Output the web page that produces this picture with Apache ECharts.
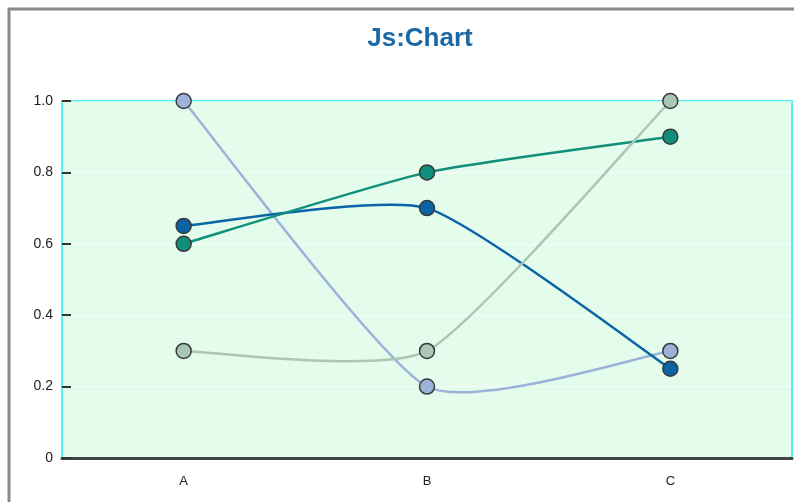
<!DOCTYPE html>
<html>
<head>
<meta charset="utf-8">
<script src="https://cdn.jsdelivr.net/npm/echarts@6/dist/echarts.min.js"></script>
<style>
  html, body { margin: 0; padding: 0; background: #fff; }
  #chart { width: 794px; height: 502px; }
</style>
</head>
<body>
<div id="chart"></div>
<script>
// Categories and values for the four series
const categories = ['A', 'B', 'C'];
const seriesBlue = [0.65, 0.7, 0.25];
const seriesTeal = [0.6, 0.8, 0.9];
const seriesLavender = [1.0, 0.2, 0.3];
const seriesSage = [0.3, 0.3, 1.0];
const yTicks = { min: 0, max: 1, step: 0.2 };

const chart = echarts.init(document.getElementById('chart'), null, { renderer: 'canvas' });

// Cardinal spline tangent factor
const TENSION = 0.28;

function toPairs(values) {
  return values.map((v, i) => [i, v]);
}

// Draws the spline segment from point i to point i+1 using the axis scales
function splineRenderer(color, width) {
  return function (params, api) {
    const i = params.dataIndexInside;
    const n = params.dataInsideLength;
    if (i >= n - 1) return null;
    const pt = j => api.coord([api.value(0, j), api.value(1, j)]);
    const p0 = pt(Math.max(i - 1, 0));
    const p1 = pt(i);
    const p2 = pt(i + 1);
    const p3 = pt(Math.min(i + 2, n - 1));
    const m1 = [TENSION * (p2[0] - p0[0]), TENSION * (p2[1] - p0[1])];
    const m2 = [TENSION * (p3[0] - p1[0]), TENSION * (p3[1] - p1[1])];
    return {
      type: 'bezierCurve',
      shape: {
        x1: p1[0], y1: p1[1],
        cpx1: p1[0] + m1[0] / 3, cpy1: p1[1] + m1[1] / 3,
        cpx2: p2[0] - m2[0] / 3, cpy2: p2[1] - m2[1] / 3,
        x2: p2[0], y2: p2[1]
      },
      style: { fill: null, stroke: color, lineWidth: width, lineCap: 'round' },
      silent: true
    };
  };
}

function curveSeries(values, color, width) {
  return {
    type: 'custom',
    data: toPairs(values),
    renderItem: splineRenderer(color, width),
    encode: { x: 0, y: 1 },
    clip: false,
    z: 2
  };
}

function dotSeries(values, color) {
  return {
    type: 'scatter',
    data: toPairs(values),
    symbol: 'circle',
    symbolSize: 15,
    itemStyle: { color: color, borderColor: '#3a3a3a', borderWidth: 1.5, opacity: 1 },
    emphasis: { disabled: true },
    z: 3
  };
}

const lines = [
  { values: seriesLavender, color: '#9cb3d9', width: 2.5 },
  { values: seriesBlue, color: '#0b64a5', width: 2.5 },
  { values: seriesTeal, color: '#108f7c', width: 2.5 },
  { values: seriesSage, color: '#aac7b6', width: 2.5 }
];

const series = [];
lines.forEach(l => series.push(curveSeries(l.values, l.color, l.width)));
lines.forEach(l => series.push(dotSeries(l.values, l.color)));

chart.setOption({
  animation: false,
  backgroundColor: '#ffffff',
  title: {
    text: 'Js:Chart',
    left: 415,
    top: 21,
    textAlign: 'center',
    textStyle: { color: '#1a68a6', fontSize: 26, fontWeight: 'bold', fontFamily: 'Liberation Sans, Arial, sans-serif' }
  },
  graphic: [{
    type: 'rect',
    shape: { x: 9, y: 9, width: 1200, height: 1200 },
    style: { fill: null, stroke: '#8a8a8a', lineWidth: 3 },
    silent: true,
    z: 100
  }],
  grid: {
    left: 62, top: 101, width: 730, height: 357,
    show: true,
    backgroundColor: '#e3fcec',
    borderColor: '#55f0f0',
    borderWidth: 2
  },
  xAxis: {
    type: 'category',
    data: categories,
    boundaryGap: true,
    axisLine: { lineStyle: { color: '#444', width: 3 } },
    axisTick: { alignWithLabel: true, length: 8, lineStyle: { color: '#333', width: 1.5 } },
    axisLabel: { color: '#222', fontSize: 13, margin: 17, fontFamily: 'Liberation Sans, Arial, sans-serif' },
    splitLine: { show: false }
  },
  yAxis: {
    type: 'value',
    min: yTicks.min, max: yTicks.max, interval: yTicks.step,
    axisLine: { show: false },
    axisTick: { show: true, inside: true, length: 9, lineStyle: { color: '#333', width: 2 } },
    axisLabel: {
      color: '#222', fontSize: 14, margin: 9,
      fontFamily: 'Liberation Sans, Arial, sans-serif',
      formatter: v => (v === 0 ? '0' : v.toFixed(1))
    },
    splitLine: { show: true, lineStyle: { color: 'rgba(255,255,255,0.6)', width: 1 } }
  },
  series: series
});
</script>
</body>
</html>
